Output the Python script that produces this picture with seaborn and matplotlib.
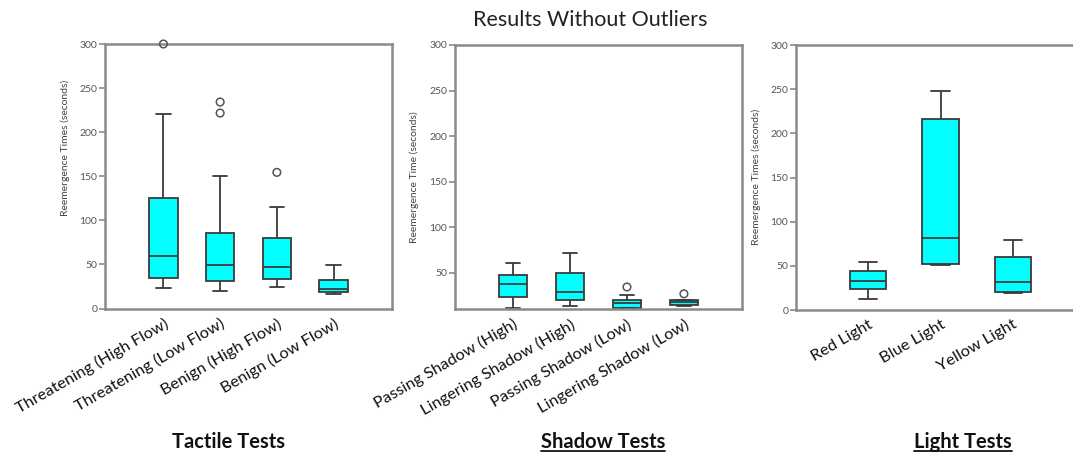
import numpy as np
import pandas as pd
import matplotlib
matplotlib.use("Agg")
import matplotlib.pyplot as plt
from matplotlib.lines import Line2D
import seaborn as sns

# ---------------- data (box summaries) ----------------
tactile_labels = ["Threatening (High Flow)", "Threatening (Low Flow)",
                  "Benign (High Flow)", "Benign (Low Flow)"]
tactile_low = [23.5, 19.3, 24.2, 16.3]
tactile_q1 = [34.8, 31.4, 34.0, 18.5]
tactile_med = [59.4, 48.8, 47.3, 22.3]
tactile_q3 = [125.2, 85.1, 80.2, 31.8]
tactile_high = [220.6, 149.8, 115.4, 49.9]
tactile_outliers = [[300.0], [234.2, 221.7], [154.4], []]

shadow_labels = ["Passing Shadow (High)", "Lingering Shadow (High)",
                 "Passing Shadow (Low)", "Lingering Shadow (Low)"]
shadow_low = [11.7, 13.5, 11.5, 14.0]
shadow_q1 = [23.7, 19.7, 11.9, 15.0]
shadow_med = [38.0, 29.2, 16.6, 17.5]
shadow_q3 = [47.4, 50.0, 20.5, 19.7]
shadow_high = [61.0, 71.6, 25.3, 20.0]
shadow_outliers = [[], [], [34.5], [27.0]]

light_labels = ["Red Light", "Blue Light", "Yellow Light"]
light_low = [12.8, 50.8, 19.7]
light_q1 = [24.2, 52.3, 20.5]
light_med = [33.0, 81.0, 31.5]
light_q3 = [44.3, 216.0, 59.9]
light_high = [53.8, 248.0, 78.8]
light_outliers = [[], [], []]

ylabels = ["Reemergence Times (seconds)", "Reemergence Time (seconds)",
           "Reemergence Times (seconds)"]
section_titles = ["Tactile Tests", "Shadow Tests", "Light Tests"]
main_title = "Results Without Outliers"

# ---------------- style ----------------
sns.set_style("white")
plt.rcParams["font.family"] = ["Lato", "DejaVu Sans"]

W, H = 1073, 453
fig = plt.figure(figsize=(W / 100, H / 100), dpi=100)


def px_axes(left, right, top, bottom):
    return fig.add_axes([left / W, (H - bottom) / H, (right - left) / W, (bottom - top) / H])


panels = [
    dict(labels=tactile_labels, low=tactile_low, q1=tactile_q1, med=tactile_med, q3=tactile_q3,
         high=tactile_high, out=tactile_outliers, rect=(105, 392, 44, 308.5),
         xlim=(-1.03, 4.03), ylim=(0, 300), yticks=[0, 50, 100, 150, 200, 250, 300],
         ylabel_y=148),
    dict(labels=shadow_labels, low=shadow_low, q1=shadow_q1, med=shadow_med, q3=shadow_q3,
         high=shadow_high, out=shadow_outliers, rect=(455, 742, 45, 309.3),
         xlim=(-1.02, 4.02), ylim=(10, 300), yticks=[50, 100, 150, 200, 250, 300],
         ylabel_y=177),
    dict(labels=light_labels, low=light_low, q1=light_q1, med=light_med, q3=light_q3,
         high=light_high, out=light_outliers, rect=(796, 1085, 45, 310),
         xlim=(-1.0, 3.0), ylim=(0, 300), yticks=[0, 50, 100, 150, 200, 250, 300],
         ylabel_y=177),
]
ylabel_x = [70, 419, 761]

edge = "#3a3a3a"
frame = "#8a8a8a"

axes = []
for i, p in enumerate(panels):
    ax = px_axes(*p["rect"])
    axes.append(ax)
    rows = []
    for j, lab in enumerate(p["labels"]):
        for v in (p["low"][j], p["q1"][j], p["med"][j], p["q3"][j], p["high"][j]):
            rows.append((lab, v))
    df = pd.DataFrame(rows, columns=["cat", "val"])
    sns.boxplot(data=df, x="cat", y="val", order=p["labels"], whis=(0, 100),
                width=0.5, color="#00FFFF", saturation=1, linecolor=edge,
                linewidth=1.3, showfliers=False, ax=ax)
    fc, fv = [], []
    for j, lab in enumerate(p["labels"]):
        for v in p["out"][j]:
            fc.append(lab)
            fv.append(v)
    if fv:
        n0 = len(ax.collections)
        sns.stripplot(x=fc, y=fv, order=p["labels"], jitter=False, size=5.5,
                      color="white", edgecolor="#555555", linewidth=1.1,
                      ax=ax, zorder=5)
        for c in list(ax.collections[n0:]):
            offs = np.asarray(c.get_offsets())
            if offs.size == 0 or not np.isfinite(offs).all():
                c.remove()
                continue
            c.set_facecolor("none")
            c.set_edgecolor("#555555")
            c.set_clip_on(False)
    ax.set_xlim(*p["xlim"])
    ax.set_ylim(*p["ylim"])
    ax.set_yticks(p["yticks"])
    ax.set_xlabel("")
    ax.set_ylabel(ylabels[i], fontsize=7.5, color="#444444")
    l, r_, t, b = p["rect"]
    ax.yaxis.set_label_coords((ylabel_x[i] - l) / (r_ - l), (b - p["ylabel_y"]) / (b - t))
    ax.tick_params(axis="y", which="both", left=True, length=4, width=1.2,
                   color=frame, labelsize=7.5, labelcolor="#555555", pad=1.5)
    ax.tick_params(axis="x", bottom=False, pad=2)
    ax.set_xticks(range(len(p["labels"])))
    ax.set_xticklabels(p["labels"], rotation=30, ha="right", rotation_mode="anchor",
                       fontsize=11.8, color="#111111")
    for s in ax.spines.values():
        s.set_color(frame)
        s.set_linewidth(1.8)

# main title
fig.text(590 / W, 1 - 20 / H, main_title, ha="center", va="center", fontsize=15.5, color="#222222")

# section titles (Shadow and Light underlined)
centers = [228, 603, 963]
txts = []
for k, (t, cx) in enumerate(zip(section_titles, centers)):
    txts.append(fig.text(cx / W, 1 - 442 / H, t, ha="center", va="center",
                         fontsize=14.5, fontweight="bold", color="#111111"))

fig.canvas.draw()
r = fig.canvas.get_renderer()
for k in (1, 2):
    bb = txts[k].get_window_extent(renderer=r)
    y = (bb.y0 + 1.0) / H
    fig.add_artist(Line2D([bb.x0 / W, bb.x1 / W], [y, y], color="#111111", lw=1.3,
                          transform=fig.transFigure))

fig.savefig("out.png", dpi=100)
